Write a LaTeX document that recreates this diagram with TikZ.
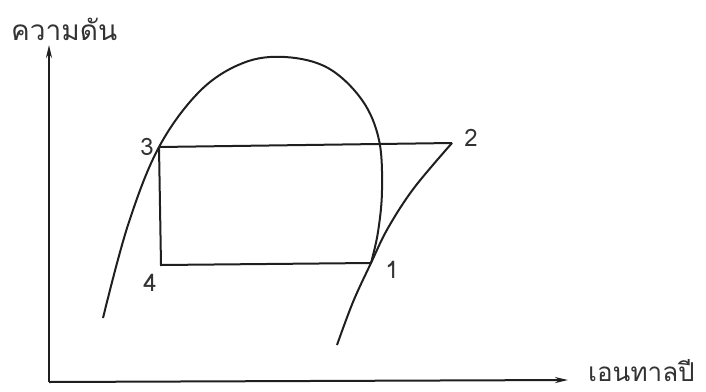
\documentclass[tikz,border=0pt]{standalone}
\usepackage{fontspec}
\newfontfamily\thaifont[Script=Thai]{Loma}
\usetikzlibrary{arrows.meta}
\begin{document}
\begin{tikzpicture}[x=1pt,y=-1pt,
  line/.style={line width=2pt,black!88},
  axis/.style={line width=2pt,black!88,-{Stealth[length=13pt,width=6pt]}},
  lbl/.style={font=\thaifont\fontsize{28}{30}\selectfont,text=black!80,inner sep=0pt},
  num/.style={font=\thaifont\fontsize{24}{26}\selectfont,text=black!80,inner sep=0pt}]
\useasboundingbox (0,0) rectangle (706,391);
\coordinate (O) at (49,382);
\coordinate (ytop) at (49,45);
\coordinate (xend) at (568,380);
\draw[axis] (O) -- (ytop);
\draw[axis] (O) -- (xend);
\node[lbl,anchor=base west] (ylab) at (11,40) {ความดัน};
\node[lbl,font=\thaifont\fontsize{26}{28}\selectfont,anchor=base west] (xlab) at (588,381) {เอนทาลปี};
\coordinate (p1) at (371,263);
\coordinate (p2) at (452,143);
\coordinate (p3) at (159,147);
\coordinate (p4) at (161,265);
% saturation dome
\draw[line] plot[smooth,tension=0.6] coordinates {(103,318) (128,225) (159,147) (200,91) (243,63) (285,57) (328,68) (362,100) (379,140) (382,190) (378,232) (371,263)};
% compression line
\draw[line] plot[smooth,tension=0.6] coordinates {(337,345) (353,302) (371,263) (388,228) (414,188) (452,143)};
% cycle
\draw[line] (p3) -- (p2);
\draw[line] (p3) -- (p4) -- (p1);
\node[num] (n1) at (392,270) {1};
\node[num] (n2) at (471,138) {2};
\node[num] (n3) at (147,147) {3};
\node[num] (n4) at (150,283) {4};
\end{tikzpicture}
\end{document}
